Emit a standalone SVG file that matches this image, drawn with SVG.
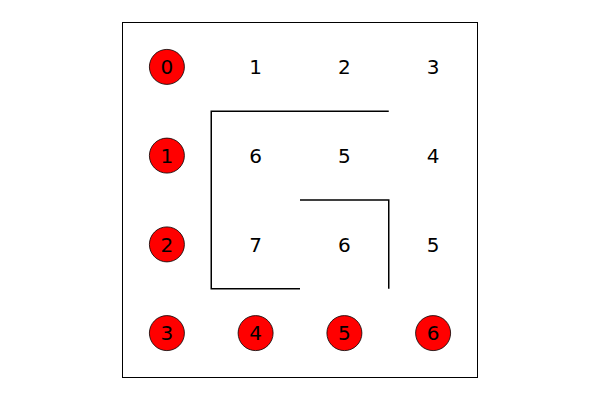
<svg xmlns="http://www.w3.org/2000/svg" width="600" height="400" viewBox="0 0 600 400">
<style>
.frame{fill:none;stroke:#000;stroke-width:1}
.wall{stroke:#000;stroke-width:1.5;fill:none}
.dot{fill:#ff0000;stroke:#000;stroke-width:0.8}
.t{font-family:"DejaVu Sans",sans-serif;font-size:20px;fill:#000;text-anchor:middle}
</style>
<rect width="600" height="400" fill="#fff"/>
<rect class="frame" x="122.5" y="22.5" width="355" height="355"/>
<g id="walls">
<path class="wall" d="M388.75 111.25 H211.25 V288.75 H300"/>
<path class="wall" d="M300 200 H388.75 V288.75"/>
</g>
<g id="n00"><circle class="dot" cx="166.9" cy="66.9" r="17.5"/><text class="t" x="166.9" y="74.2">0</text></g>
<g id="n01"><text class="t" x="255.6" y="74.2">1</text></g>
<g id="n02"><text class="t" x="344.4" y="74.2">2</text></g>
<g id="n03"><text class="t" x="433.1" y="74.2">3</text></g>
<g id="n10"><circle class="dot" cx="166.9" cy="155.6" r="17.5"/><text class="t" x="166.9" y="162.9">1</text></g>
<g id="n11"><text class="t" x="255.6" y="162.9">6</text></g>
<g id="n12"><text class="t" x="344.4" y="162.9">5</text></g>
<g id="n13"><text class="t" x="433.1" y="162.9">4</text></g>
<g id="n20"><circle class="dot" cx="166.9" cy="244.4" r="17.5"/><text class="t" x="166.9" y="251.7">2</text></g>
<g id="n21"><text class="t" x="255.6" y="251.7">7</text></g>
<g id="n22"><text class="t" x="344.4" y="251.7">6</text></g>
<g id="n23"><text class="t" x="433.1" y="251.7">5</text></g>
<g id="n30"><circle class="dot" cx="166.9" cy="333.1" r="17.5"/><text class="t" x="166.9" y="340.4">3</text></g>
<g id="n31"><circle class="dot" cx="255.6" cy="333.1" r="17.5"/><text class="t" x="255.6" y="340.4">4</text></g>
<g id="n32"><circle class="dot" cx="344.4" cy="333.1" r="17.5"/><text class="t" x="344.4" y="340.4">5</text></g>
<g id="n33"><circle class="dot" cx="433.1" cy="333.1" r="17.5"/><text class="t" x="433.1" y="340.4">6</text></g>
</svg>
